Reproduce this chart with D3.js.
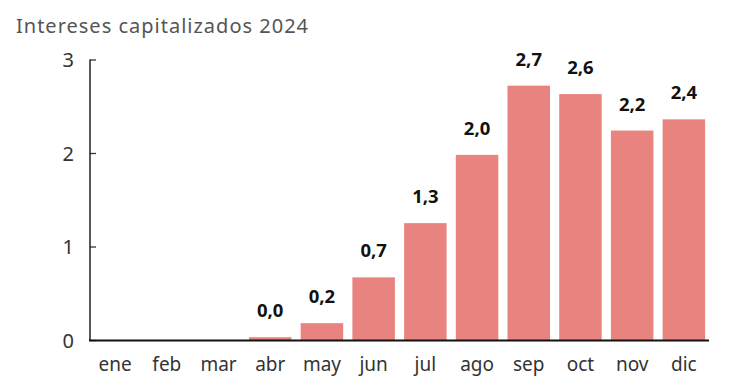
<!DOCTYPE html>
<html><head><meta charset="utf-8">
<script src="https://cdn.jsdelivr.net/npm/d3@7/dist/d3.min.js"></script>
<style>body{margin:0;background:#fff}svg{display:block}</style>
</head><body><svg id="c" width="730" height="388"></svg>
<script>
const categories = ["ene","feb","mar","abr","may","jun","jul","ago","sep","oct","nov","dic"];
const values = [null,null,null,0.03,0.18,0.67,1.25,1.98,2.72,2.63,2.24,2.36];
const labels = ["","","","0,0","0,2","0,7","1,3","2,0","2,7","2,6","2,2","2,4"];
const yTicks = [0,1,2,3];
const title = "Intereses capitalizados 2024";

const svg = d3.select("#c");
const x = d3.scaleBand().domain(categories).range([90,709]).paddingInner(0.178).paddingOuter(0.075);
const y = d3.scaleLinear().domain([0,3]).range([340,59.5]);
const font = "'Noto Sans', sans-serif";

svg.append("text").attr("x",16).attr("y",33.3).attr("font-family",font).attr("font-size",20)
  .attr("letter-spacing",1).attr("fill","#555").text(title);

const rows = categories.map((c,i)=>({c,v:values[i],l:labels[i]})).filter(d=>d.v!=null);

svg.append("g").selectAll("rect").data(rows)
  .join("rect").attr("x",d=>x(d.c)).attr("width",x.bandwidth())
  .attr("y",d=>y(d.v)).attr("height",d=>y(0)-y(d.v)).attr("fill","#E9837F");

svg.append("g").selectAll("text").data(rows)
  .join("text").attr("x",d=>x(d.c)+x.bandwidth()/2).attr("y",d=>y(d.v)-20)
  .attr("text-anchor","middle").attr("font-family",font).attr("font-weight","bold")
  .attr("font-size",18.5).attr("fill","#111").text(d=>d.l);

const ya = svg.append("g").attr("transform","translate(90,0)")
  .call(d3.axisRight(y).tickValues(yTicks).tickSize(6).tickFormat(d=>d));
ya.select(".domain").remove();
ya.selectAll(".tick line").attr("stroke","#333").attr("stroke-width",1.3);
ya.selectAll(".tick text").attr("x",-16).attr("text-anchor","end").attr("dy","0.36em")
  .attr("font-family",font).attr("font-size",20).attr("fill","#333");
svg.append("line").attr("x1",90).attr("x2",90).attr("y1",y(3)).attr("y2",y(0)).attr("stroke","#222").attr("stroke-width",1.5);

const xa = svg.append("g").attr("transform","translate(0,340)")
  .call(d3.axisBottom(x).tickSize(0));
xa.select(".domain").remove();
xa.selectAll(".tick text").attr("y",30.5).attr("dy",0).attr("font-family",font).attr("font-size",19).attr("fill","#333");
svg.append("line").attr("x1",89).attr("x2",709).attr("y1",340.5).attr("y2",340.5).attr("stroke","#111").attr("stroke-width",2);
</script></body></html>
